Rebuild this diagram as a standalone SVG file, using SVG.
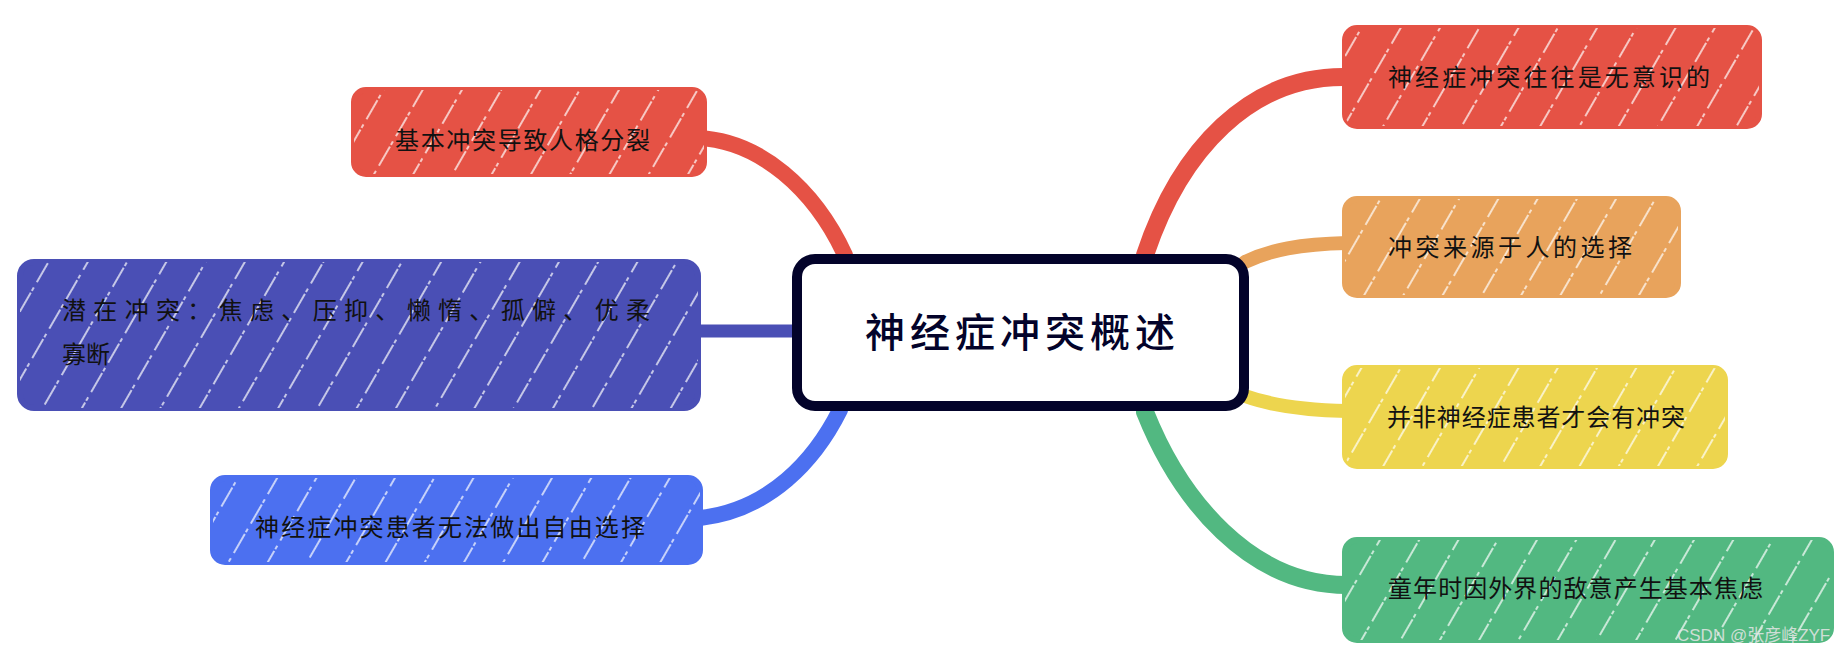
<svg xmlns="http://www.w3.org/2000/svg" width="1842" height="655" viewBox="0 0 1842 655">
<style>
.lbl{font-family:"Noto Sans CJK SC","Noto Sans",sans-serif;font-size:24px;fill:#111;dominant-baseline:central}
.title{font-family:"Noto Sans CJK SC","Noto Sans",sans-serif;font-size:40px;font-weight:500;fill:#03032a;dominant-baseline:central;text-anchor:middle}
.hatch{fill:url(#hatch)}
.con{fill:none;stroke-linecap:round}
</style>
<defs>
<pattern id="hatch" width="34" height="34" patternUnits="userSpaceOnUse" patternTransform="rotate(30)">
<line x1="3" y1="0" x2="3" y2="34" stroke="#fff" stroke-width="1.6" stroke-dasharray="22 6 4 2" opacity="0.85"/>
</pattern>
</defs>
<rect width="1842" height="655" fill="#fff"/>
<g id="connectors">
<path class="con" d="M697 138 C760 140 815 190 845 255" stroke="#e55245" stroke-width="16"/>
<path class="con" d="M697 331 L794 331" stroke="#4a4fb5" stroke-width="13"/>
<path class="con" d="M700 518 C770 510 815 460 840 410" stroke="#4c70f0" stroke-width="16"/>
<path class="con" d="M1347 77 C1250 75 1180 150 1145 255" stroke="#e55245" stroke-width="18"/>
<path class="con" d="M1347 243 C1300 244 1270 250 1245 262" stroke="#e8a35c" stroke-width="14"/>
<path class="con" d="M1347 411 C1300 410 1270 405 1245 396" stroke="#edd54e" stroke-width="14"/>
<path class="con" d="M1347 585 C1250 585 1180 500 1145 412" stroke="#52b881" stroke-width="18"/>
</g>
<g id="n-left1">
<rect x="354" y="90" width="350" height="84" rx="12" fill="#e55245" stroke="#e55245" stroke-width="6"/>
<rect x="354" y="90" width="350" height="84" rx="12" class="hatch"/>
<text class="lbl" x="395" y="138" textLength="255" lengthAdjust="spacing">基本冲突导致人格分裂</text>
</g>
<g id="n-left2">
<rect x="20" y="262" width="678" height="146" rx="14" fill="#4a4fb5" stroke="#4a4fb5" stroke-width="6"/>
<rect x="20" y="262" width="678" height="146" rx="14" class="hatch"/>
<text class="lbl" x="62" y="308" textLength="588" lengthAdjust="spacing">潜在冲突：焦虑、压抑、懒惰、孤僻、优柔</text>
<text class="lbl" x="62" y="352">寡断</text>
</g>
<g id="n-left3">
<rect x="213" y="478" width="487" height="84" rx="12" fill="#4c70f0" stroke="#4c70f0" stroke-width="6"/>
<rect x="213" y="478" width="487" height="84" rx="12" class="hatch"/>
<text class="lbl" x="255" y="525" textLength="390" lengthAdjust="spacing">神经症冲突患者无法做出自由选择</text>
</g>
<g id="n-center">
<rect x="797" y="259" width="447" height="147" rx="18" fill="#fff" stroke="#03032a" stroke-width="10"/>
<text class="title" x="1020" y="330" textLength="310" lengthAdjust="spacing">神经症冲突概述</text>
</g>
<g id="n-right1">
<rect x="1345" y="28" width="414" height="98" rx="12" fill="#e55245" stroke="#e55245" stroke-width="6"/>
<rect x="1345" y="28" width="414" height="98" rx="12" class="hatch"/>
<text class="lbl" x="1388" y="75" textLength="322" lengthAdjust="spacing">神经症冲突往往是无意识的</text>
</g>
<g id="n-right2">
<rect x="1345" y="199" width="333" height="96" rx="12" fill="#e8a35c" stroke="#e8a35c" stroke-width="6"/>
<rect x="1345" y="199" width="333" height="96" rx="12" class="hatch"/>
<text class="lbl" x="1388" y="245" textLength="244" lengthAdjust="spacing">冲突来源于人的选择</text>
</g>
<g id="n-right3">
<rect x="1345" y="368" width="380" height="98" rx="12" fill="#edd54e" stroke="#edd54e" stroke-width="6"/>
<rect x="1345" y="368" width="380" height="98" rx="12" class="hatch"/>
<text class="lbl" x="1387" y="415" textLength="298" lengthAdjust="spacing">并非神经症患者才会有冲突</text>
</g>
<g id="n-right4">
<rect x="1345" y="540" width="486" height="100" rx="12" fill="#52b881" stroke="#52b881" stroke-width="6"/>
<rect x="1345" y="540" width="486" height="100" rx="12" class="hatch"/>
<text class="lbl" x="1388" y="586" textLength="375" lengthAdjust="spacing">童年时因外界的敌意产生基本焦虑</text>
</g>
<text x="1677" y="635" font-family="Liberation Sans,'Noto Sans CJK SC',sans-serif" font-size="17" fill="#e6e6e6" fill-opacity="0.85" dominant-baseline="central">CSDN @张彦峰ZYF</text>
</svg>
